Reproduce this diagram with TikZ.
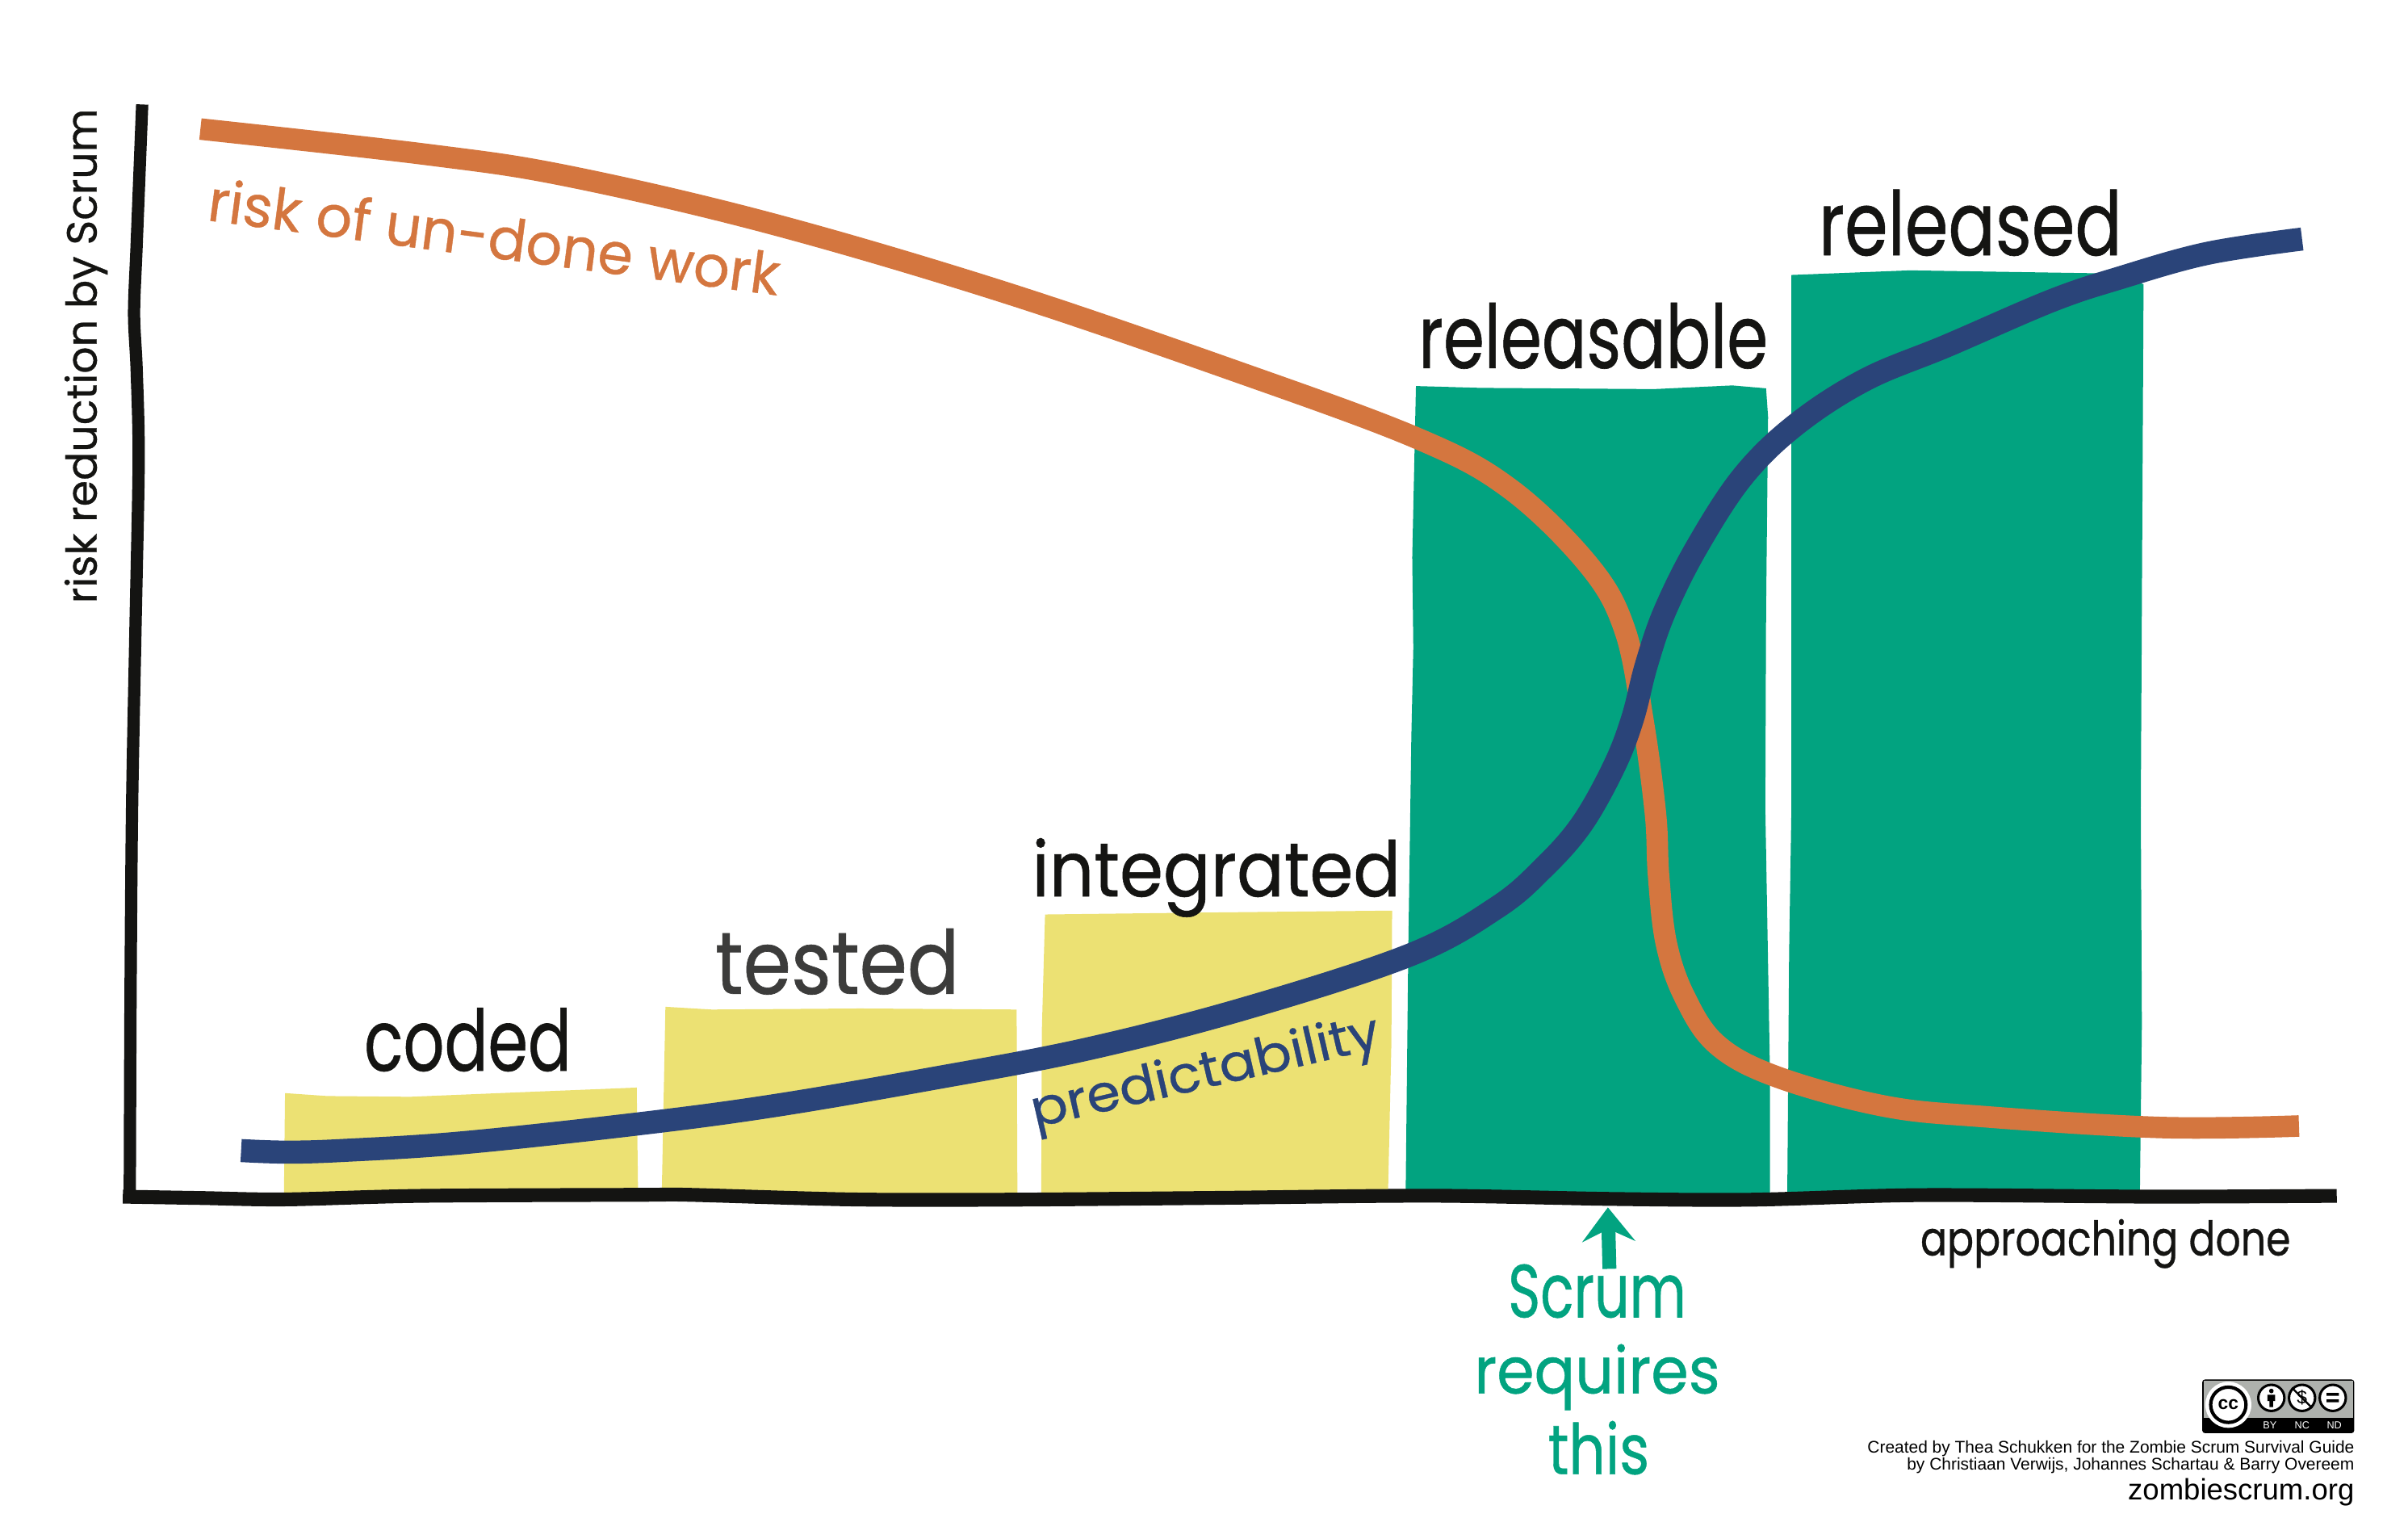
\documentclass[tikz,border=0pt]{standalone}
\usepackage{graphicx}
\usepackage{fontspec}
\setmainfont{Poppins}[FakeBold=0.6]
\newfontfamily\credit{Liberation Sans}
\usetikzlibrary{arrows.meta}
\newdimen\dispu \dispu=0.019024cm
\newcommand{\fitbox}[3]{\resizebox*{#1\dispu}{#2\dispu}{#3}}
\definecolor{cgreen}{HTML}{02A380}
\definecolor{cyellow}{HTML}{ECE173}
\definecolor{corange}{HTML}{D4763F}
\definecolor{cblue}{HTML}{2A4479}
\definecolor{cink}{HTML}{141412}
\definecolor{ctest}{HTML}{3C3C3B}
\definecolor{cbadge}{HTML}{AEB1AD}
\begin{document}
\begin{tikzpicture}[x=0.019024cm,y=-0.019024cm,
  hand/.style={inner sep=0,outer sep=0,text=cink},
  barY/.style={fill=cyellow},
  barG/.style={fill=cgreen},
  curveO/.style={line width=14\dispu,line cap=butt,line join=round,draw=corange},
  curveB/.style={line width=15\dispu,line cap=butt,line join=round,draw=cblue},
  axisline/.style={draw=cink,line cap=butt,line join=round},
  tiny/.style={inner sep=0,outer sep=0,text=black,anchor=east},
  badgeicon/.style={circle,fill=white,draw=black,line width=1.6\dispu,minimum size=17\dispu,inner sep=0}]
\useasboundingbox (0,0) rectangle (1568,987.7);
% bars
\path[barY] (185.6,711.6) -- (213,713.5) -- (267,714) -- (340,711) -- (414.6,708) -- (415.5,778) -- (184.9,778) -- cycle;
\path[barY] (433.3,655.4) -- (463.5,657.2) -- (560,656.5) -- (662,657.2) -- (662.5,778) -- (430.9,778) -- cycle;
\path[barY] (680.5,595.3) -- (790,594) -- (906.5,592.8) -- (906,680) -- (903.8,778) -- (678,778) -- (678.4,671) -- cycle;
\path[barG] (922,251.3) -- (964,252.5) -- (1077,253.3) -- (1128,250.9) -- (1150,252.8) -- (1151.3,271.4) -- (1150,398) -- (1149.5,526) -- (1152.6,702) -- (1152.6,778) -- (915.3,778) -- (917,620) -- (919,480) -- (920.3,421.6) -- (919.6,362.8) -- cycle;
\path[barG] (1166.5,179) -- (1243.7,176) -- (1372.5,178) -- (1395.8,185) -- (1394,526) -- (1394.7,667) -- (1393.4,778) -- (1163.8,778) -- (1165,620) -- (1166.5,526) -- cycle;
% curves
\draw[curveO] plot[smooth,tension=0.6] coordinates {(130.5,84) (279,100.7) (369.6,114.6) (500,145) (650,189) (800,240) (922,285) (983,318) (1034.6,368) (1058,410) (1070,470) (1078,530) (1080,570) (1085,614) (1097,649) (1118,680) (1157,701) (1226.6,720) (1293,727) (1407.6,734) (1497,733)};
\draw[curveB] plot[smooth,tension=0.6] coordinates {(157,749) (185.6,750) (222,749) (300.5,744) (415,731.7) (502.6,720) (604.6,702.6) (706.6,683.2) (811,656.4) (918.5,621.5) (974.8,590.7) (1005,565) (1030,536.5) (1051,499) (1063,468) (1072,433) (1084,398) (1105,356) (1135,310) (1170,276) (1215,247) (1268,225) (1336,195.7) (1380,181) (1437,165) (1499,155.6)};
% axes
\draw[axisline,line width=8\dispu] plot[smooth,tension=0.5] coordinates {(92.6,68) (89,159) (87.3,204) (89,241) (90.3,300) (88.2,410) (86,526) (85,650) (84.5,782)};
\draw[axisline,line width=9\dispu] plot[smooth,tension=0.5] coordinates {(80,779) (131.4,779.9) (185.6,780.8) (273.6,778.5) (418,777.8) (448.6,777.8) (554,780.8) (653,781) (792.5,779.8) (931.7,778.4) (1050,780.5) (1140,781) (1250,778) (1400,779) (1521.6,778.5)};
% labels
\node[hand,text=corange,rotate=-7.5] (riskundone) at (322,153.8) {\fitbox{375}{29}{risk of un-done work}};
\node[hand,rotate=90] (riskaxis) at (56,231.7) {\fitbox{322}{28}{risk reduction by Scrum}};
\node[hand] (coded) at (304.6,676.8) {\fitbox{135}{41.5}{coded}};
\node[hand,text=ctest] (tested) at (545.2,626) {\fitbox{159}{43}{tested}};
\node[hand] (integrated) at (792,571.3) {\fitbox{240}{51.4}{integrated}};
\node[hand] (releasable) at (1037.5,218.6) {\fitbox{227.5}{43}{releasable}};
\node[hand] (released) at (1283,145) {\fitbox{197.5}{43.3}{released}};
\node[hand,text=cblue,rotate=13] (predict) at (785.2,699.8) {\fitbox{232}{34}{predictability}};
\node[hand] (approach) at (1371,809.6) {\fitbox{241}{32}{approaching done}};
\node[hand,text=cgreen] (scrum) at (1040,840.5) {\fitbox{116}{35}{Scrum}};
\node[hand,text=cgreen] (requires) at (1040,896.5) {\fitbox{160}{43}{requires}};
\node[hand,text=cgreen] (this) at (1041,942.5) {\fitbox{66}{35}{this}};
% arrow
\coordinate (arrowtip) at (1047,786);
\coordinate (arrowtail) at (1048,826);
\draw[draw=cgreen,line width=4.9pt,-{Stealth[length=12pt,width=18.6pt,inset=4.4pt]}] (arrowtail) -- (arrowtip);
% licence badge
\path[fill=black,rounded corners=1pt] (1434,898) rectangle (1533,933);
\path[fill=cbadge] (1435,899) rectangle (1532,923);
\node[circle,fill=white,minimum size=30\dispu,inner sep=0] (ccbadge) at (1451,914.5) {};
\draw[black,line width=2.2\dispu] (ccbadge.center) circle (11.5);
\node[inner sep=0,text=black] (cctext) at (ccbadge.center) {\credit\bfseries\fontsize{6.5}{6.5}\selectfont cc};
\node[badgeicon] (ib) at (1479,910) {};
\node[badgeicon] (nb) at (1499,910) {};
\node[badgeicon] (eb) at (1519,910) {};
\path[fill=black] (1479,905.5) circle (1.5);
\path[fill=black] (1476.5,908) rectangle (1481.5,912) (1477.8,912) rectangle (1480.2,916);
\node[inner sep=0,text=black] (dollar) at (1499,910) {\credit\fontsize{6.5}{6.5}\selectfont\$};
\draw[black,line width=1.2\dispu] (nb.north west) -- (nb.south east);
\path[fill=black] (1515,906.8) rectangle (1523,908.6) (1515,911) rectangle (1523,912.8);
\node[inner sep=0,text=white] (by) at (1478,928) {\credit\fontsize{3.6}{3.6}\selectfont BY};
\node[inner sep=0,text=white] (nc) at (1499,928) {\credit\fontsize{3.6}{3.6}\selectfont NC};
\node[inner sep=0,text=white] (nd) at (1520,928) {\credit\fontsize{3.6}{3.6}\selectfont ND};
% credits
\node[tiny] (credit1) at (1533,943) {\credit\fontsize{5.96}{6}\selectfont Created by Thea Schukken for the Zombie Scrum Survival Guide};
\node[tiny] (credit2) at (1533,954) {\credit\fontsize{5.96}{6}\selectfont by Christiaan Verwijs, Johannes Schartau \& Barry Overeem};
\node[tiny] (site) at (1533,971.5) {\credit\fontsize{10.4}{10.4}\selectfont zombiescrum.org};
\end{tikzpicture}
\end{document}
